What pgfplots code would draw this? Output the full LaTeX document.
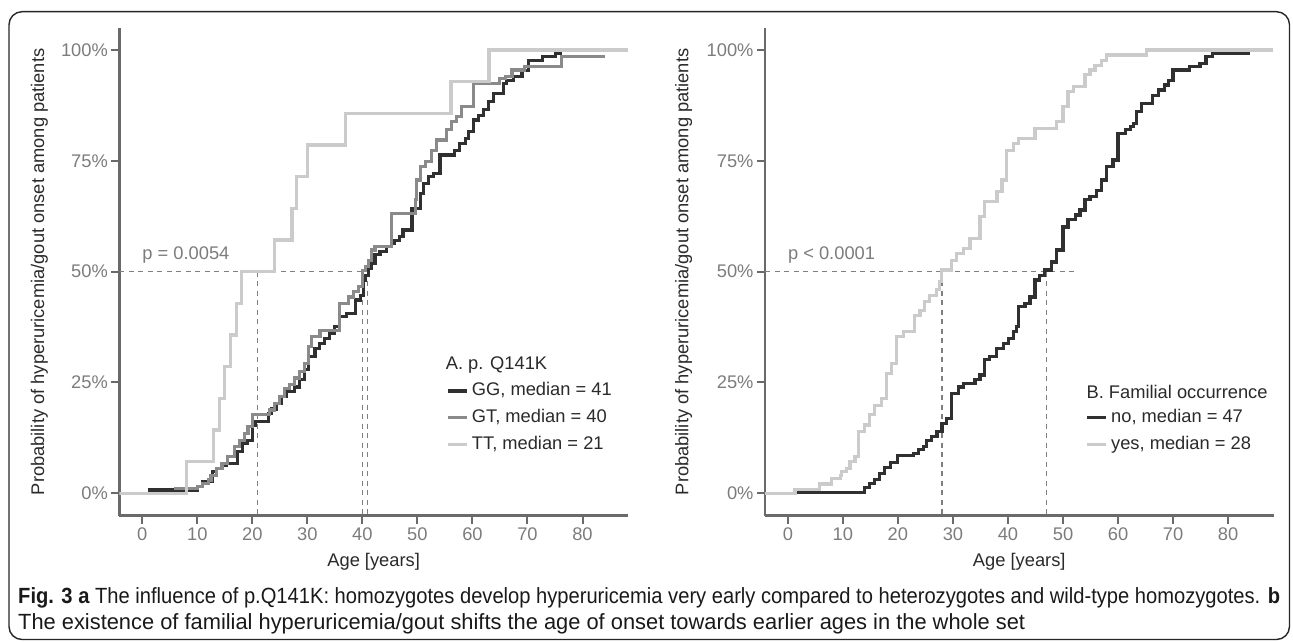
\documentclass[border=0pt]{standalone}
\usepackage{pgfplots}
\pgfplotsset{compat=1.18}
\usepackage{fontspec}
\setmainfont{Liberation Sans}
\usepackage{graphicx}

\definecolor{ggcol}{HTML}{303030}
\definecolor{gtcol}{HTML}{8A8A8A}
\definecolor{ttcol}{HTML}{CBCBCB}
\definecolor{axcol}{HTML}{6A6A6A}
\definecolor{tickcol}{HTML}{7C7C7C}
\definecolor{labcol}{HTML}{2A2A2A}
\definecolor{dashcol}{HTML}{7F7F7F}

\newcommand{\pfont}{\fontsize{18.3}{20}\selectfont}

\pgfplotsset{
  km/.style={
    scale only axis, width=508.5pt, height=487.7pt, anchor=south west,
    xmin=-4.15, xmax=88.25, ymin=-0.0505, ymax=1.0497,
    axis x line*=bottom, axis y line*=left,
    axis line style={draw=axcol, line width=2.6pt, -},
    tick align=outside, major tick length=8pt,
    tick style={draw=axcol, line width=2pt},
    xtick={0,10,...,80}, xticklabels={0,10,20,30,40,50,60,70,80},
    ytick={0,0.25,0.5,0.75,1}, yticklabels={0\%,25\%,50\%,75\%,100\%},
    tick label style={text=tickcol, font=\pfont},
    xlabel={Age [years]},
    ylabel={Probability of hyperuricemia/gout onset among patients},
    every axis x label/.style={at={(rel axis cs:0.5,-0.0943)}, anchor=center,
      font=\pfont, text=labcol},
    legend cell align=left,
    legend image code/.code={\draw[#1, line width=3.2pt] (0pt,0pt) -- (18.7pt,0pt);},
    legend style={draw=none, fill=none, inner sep=0pt, row sep=9.2pt,
      font=\pfont, text=labcol,
      nodes={inner xsep=3.7pt, inner ysep=0pt, text height=13.5pt, text depth=4pt}},
  },
  kmline/.style={const plot mark left, line width=3.2pt, line cap=butt, line join=miter, mark=none},
  refline/.style={draw=dashcol, line width=1.2pt, dash pattern=on 5pt off 4.5pt, forget plot},
}

\begin{document}
\begin{tikzpicture}
\useasboundingbox (0pt,0pt) rectangle (1293pt,641pt);

% ---------------- panel A ----------------
\begin{axis}[km, at={(119.4pt,125.3pt)},
  every axis y label/.style={at={(rel axis cs:-0.1573,0.5)}, anchor=center, rotate=90,
    font=\pfont, text=labcol},
  legend style={at={(0.6425,0.201)}, anchor=west}]

\addplot[refline] coordinates {(-4.15,0.5) (41.2,0.5)};
\addplot[refline] coordinates {(21,0.5) (21,-0.0505)};
\addplot[refline] coordinates {(40,0.5) (40,-0.0505)};
\addplot[refline] coordinates {(41,0.5) (41,-0.0505)};

\addplot[kmline, ggcol] coordinates {
(1.0,0.0075) (10.1,0.015) (11.0,0.026) (12.8,0.049) (13.5,0.056) (14.5,0.064)
(15.3,0.068) (17.3,0.094) (18.2,0.113) (19.1,0.120) (20.0,0.154) (20.6,0.162)
(22.9,0.180) (23.5,0.190) (24.4,0.203) (25.3,0.218) (26.2,0.229) (27.7,0.240)
(28.6,0.256) (29.5,0.280) (30.2,0.308) (31.4,0.327) (32.2,0.338) (33.1,0.350)
(34.0,0.361) (35.0,0.376) (35.9,0.398) (37.1,0.406) (38.7,0.436) (39.6,0.447)
(40.2,0.481) (40.6,0.492) (41.1,0.508) (41.7,0.519) (42.3,0.538) (43.2,0.545)
(44.4,0.556) (45.3,0.564) (45.9,0.571) (46.8,0.579) (47.4,0.594) (49.0,0.643)
(50.5,0.677) (51.1,0.699) (52.0,0.714) (52.9,0.722) (54.1,0.763) (56.8,0.774)
(57.7,0.790) (58.7,0.800) (59.3,0.816) (60.2,0.842) (61.1,0.853) (62.0,0.865)
(62.9,0.883) (63.8,0.902) (65.6,0.925) (66.2,0.932) (67.5,0.940) (69.0,0.954)
(70.2,0.977) (72.8,0.985) (75.1,0.992) (76.2,0.992)
};
\addlegendentry{GG, median = 41}

\addplot[kmline, gtcol] coordinates {
(5.8,0.011) (10.0,0.015) (11.0,0.022) (12.0,0.030) (12.5,0.041) (13.5,0.056)
(14.5,0.068) (15.5,0.083) (16.8,0.105) (17.7,0.120) (18.6,0.135) (19.2,0.150)
(20.1,0.177) (23.1,0.188) (24.0,0.203) (24.9,0.218) (25.8,0.237) (26.7,0.245)
(27.7,0.260) (28.6,0.274) (29.5,0.293) (30.2,0.331) (30.8,0.353) (32.3,0.368)
(35.9,0.429) (37.5,0.443) (38.4,0.455) (39.3,0.466) (40.0,0.503) (40.5,0.511)
(41.1,0.526) (41.7,0.549) (42.3,0.556) (45.3,0.632) (49.6,0.662) (49.8,0.707)
(50.5,0.737) (51.5,0.748) (52.6,0.774) (53.5,0.797) (55.3,0.820) (56.2,0.838)
(57.1,0.850) (58.0,0.872) (60.2,0.925) (64.9,0.936) (66.0,0.940) (67.2,0.955)
(69.5,0.962) (76.2,0.985) (84.1,0.985)
};
\addlegendentry{GT, median = 40}

\addplot[kmline, ttcol] coordinates {
(-4.15,0) (8.0,0.0714) (13.0,0.1429) (14.1,0.2143) (15.0,0.2857) (16.1,0.3571)
(17.2,0.4286) (18.1,0.5) (24.1,0.5714) (27.2,0.6429) (28.1,0.7143) (30.1,0.7857)
(36.9,0.8571) (56.1,0.9286) (63.0,1.0) (88.2,1.0)
};
\addlegendentry{TT, median = 21}

\node[anchor=base west, inner sep=0pt, text=tickcol, font=\pfont] at (axis cs:0,0.5285) {p = 0.0054};
\node[anchor=west, inner sep=0pt, text=labcol, font=\pfont] at (rel axis cs:0.6415,0.309) {A. p. Q141K};
\end{axis}

% ---------------- panel B ----------------
\begin{axis}[km, at={(765pt,125.3pt)},
  every axis y label/.style={at={(rel axis cs:-0.160,0.5)}, anchor=center, rotate=90,
    font=\pfont, text=labcol},
  legend style={at={(0.6300,0.1737)}, anchor=west}]

\addplot[refline] coordinates {(-4.15,0.5) (52.2,0.5)};
\addplot[refline] coordinates {(28,0.5) (28,-0.0505)};
\addplot[refline] coordinates {(47,0.5) (47,-0.0505)};

\addplot[kmline, ggcol] coordinates {
(1.6,0.002) (14.0,0.013) (14.9,0.022) (15.8,0.031) (16.7,0.045) (17.6,0.059)
(18.6,0.069) (19.9,0.086) (22.8,0.090) (23.7,0.098) (24.6,0.105) (25.2,0.120)
(26.1,0.128) (27.1,0.139) (28.0,0.158) (28.9,0.169) (29.8,0.226) (31.0,0.240)
(31.9,0.248) (34.0,0.256) (34.9,0.267) (35.8,0.301) (36.7,0.308) (37.9,0.327)
(39.2,0.338) (40.1,0.350) (41.0,0.365) (41.6,0.376) (41.9,0.421) (43.1,0.429)
(44.0,0.443) (44.9,0.481) (45.8,0.492) (46.7,0.504) (47.9,0.522) (48.8,0.549)
(50.0,0.601) (50.9,0.617) (52.2,0.628) (53.1,0.639) (54.0,0.662) (54.9,0.669)
(56.1,0.684) (57.0,0.707) (57.9,0.737) (59.1,0.752) (60.0,0.812) (61.3,0.820)
(62.2,0.827) (62.8,0.835) (63.4,0.861) (64.3,0.880) (66.2,0.898) (67.4,0.910)
(68.5,0.921) (69.2,0.932) (70.0,0.955) (73.0,0.962) (74.9,0.970) (76.0,0.985)
(77.2,0.992) (84.0,0.992)
};
\addlegendentry{no, median = 47}

\addplot[kmline, ttcol] coordinates {
(-4.15,0) (1.3,0.009) (5.8,0.021) (8.0,0.034) (9.5,0.041) (9.8,0.049) (10.7,0.056)
(11.3,0.071) (12.2,0.083) (12.8,0.139) (14.0,0.154) (14.9,0.177) (15.8,0.199)
(17.0,0.214) (17.9,0.271) (18.9,0.293) (19.8,0.353) (21.0,0.365) (23.0,0.402)
(24.0,0.413) (24.9,0.432) (25.8,0.447) (27.0,0.459) (27.5,0.477) (27.9,0.504)
(29.8,0.526) (30.7,0.541) (31.9,0.553) (33.1,0.575) (34.9,0.624) (35.8,0.658)
(38.0,0.680) (38.9,0.707) (39.8,0.774) (41.0,0.790) (41.9,0.800) (44.9,0.823)
(48.8,0.838) (50.0,0.872) (50.9,0.906) (51.9,0.917) (54.0,0.944) (54.9,0.955)
(55.8,0.966) (57.0,0.977) (57.9,0.989) (65.2,1.0) (88.2,1.0)
};
\addlegendentry{yes, median = 28}

\node[anchor=base west, inner sep=0pt, text=tickcol, font=\pfont] at (axis cs:0,0.5285) {p < 0.0001};
\node[anchor=west, inner sep=0pt, text=labcol, font=\pfont] at (rel axis cs:0.632,0.254) {B. Familial occurrence};
\end{axis}

% ---------------- caption and frame ----------------
\node[anchor=base west, inner sep=0pt, text=black!90] at (18pt,37.5pt)
  {\resizebox{1262pt}{\height}{\fontsize{22}{22}\selectfont\textbf{Fig. 3 a} The influence of p.Q141K: homozygotes develop hyperuricemia very early compared to heterozygotes and wild-type homozygotes. \textbf{b}}};
\node[anchor=base west, inner sep=0pt, text=black!90] at (18pt,11.5pt)
  {\resizebox{1007pt}{\height}{\fontsize{22}{22}\selectfont The existence of familial hyperuricemia/gout shifts the age of onset towards earlier ages in the whole set}};
\draw[draw=black!85, line width=1.4pt, rounded corners=13pt] (9pt,1.5pt) rectangle (1289.5pt,629.3pt);
\end{tikzpicture}
\end{document}
